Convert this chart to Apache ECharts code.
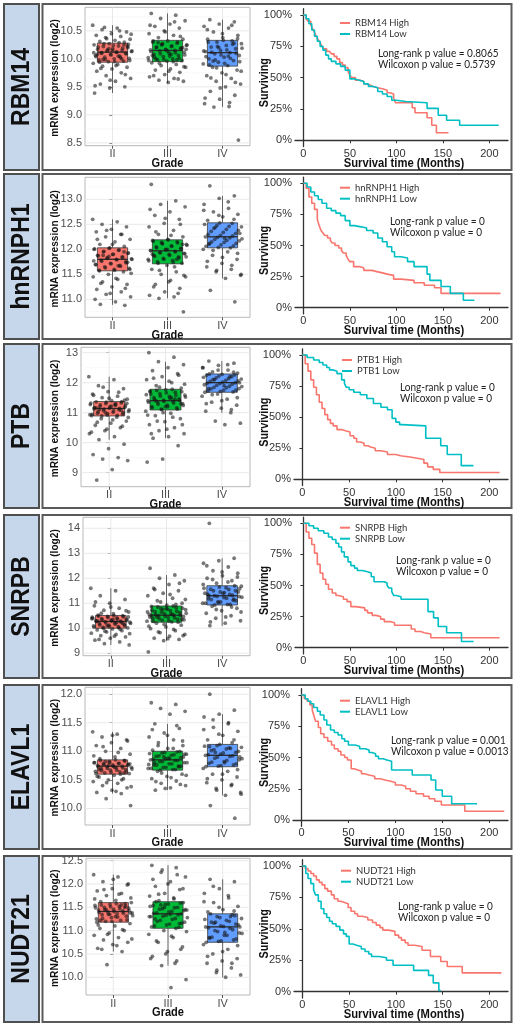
<!DOCTYPE html>
<html><head><meta charset="utf-8">
<script src="https://cdn.jsdelivr.net/npm/echarts@6/dist/echarts.min.js"></script>
<style>html,body{margin:0;padding:0;background:#fff}#c{width:520px;height:1027px}</style>
</head><body><div id="c"></div>
<script>
// ---------------- DATA ----------------
const genes = ['RBM14','hnRNPH1','PTB','SNRPB','ELAVL1','NUDT21'];
const kmNames = ['RBM14','hnRNPH1','PTB1','SNRPB','ELAVL1','NUDT21'];
const grades = ['II','III','IV'];

// box stats per grade: [lower whisker, Q1, median, Q3, upper whisker]
const rbm14Box   = [[9.39,9.94,10.12,10.28,10.6],[9.57,9.95,10.15,10.33,10.81],[9.14,9.87,10.11,10.33,10.7]];
const hnrnph1Box = [[10.89,11.57,11.80,12.03,12.6],[11.02,11.71,11.97,12.19,12.97],[11.42,12.03,12.25,12.53,13.07]];
const ptbBox     = [[10.1,10.89,11.14,11.37,12.2],[10.15,11.09,11.4,11.78,12.7],[11.0,11.68,12.0,12.29,12.72]];
const snrpbBox   = [[9.33,10.0,10.27,10.51,11.6],[9.5,10.24,10.52,10.89,12.13],[10.09,10.93,11.3,11.7,12.8]];
const elavl1Box  = [[10.26,10.6,10.74,10.85,11.34],[10.32,10.67,10.85,11.0,11.48],[10.23,10.73,10.93,11.12,11.65]];
const nudt21Box  = [[10.55,11.18,11.41,11.6,12.2],[10.25,11.05,11.36,11.62,12.4],[10.0,10.75,11.08,11.36,12.1]];

// individual expression values (jittered points)
const rbm14II  = [10.6,10.55,10.52,10.48,10.45,10.42,10.4,10.38,10.35,10.33,10.31,10.3,10.27,10.25,10.23,10.22,10.2,10.18,10.17,10.15,10.14,10.13,10.12,10.11,10.1,10.08,10.06,10.05,10.03,10.01,10.0,9.98,9.96,9.95,9.92,9.9,9.87,9.85,9.82,9.78,9.75,9.7,9.65,9.6,9.55,9.5,9.48,9.39,
  10.29,10.27,10.26,10.24,10.21,10.19,10.16,10.14,10.12,10.1,10.09,10.07,10.04,10.02,9.99,9.97,9.95,9.94,10.25,10.18,10.11,10.05,9.99,10.22,10.15,10.08,10.0,10.36,10.44,9.88,9.83,9.72,9.62,9.52,10.5,10.56];
const rbm14III = [10.81,10.78,10.72,10.68,10.62,10.58,10.55,10.5,10.45,10.42,10.38,10.35,10.32,10.3,10.28,10.26,10.24,10.22,10.2,10.19,10.17,10.16,10.15,10.14,10.12,10.1,10.08,10.06,10.04,10.02,10.0,9.98,9.97,9.96,9.93,9.9,9.88,9.85,9.82,9.8,9.76,9.72,9.68,9.65,9.62,9.6,9.58,
  10.32,10.3,10.27,10.25,10.23,10.21,10.18,10.16,10.13,10.11,10.09,10.07,10.05,10.03,10.01,9.99,9.97,9.95,10.29,10.2,10.14,10.06,9.98,10.25,10.17,10.08,10.0,10.4,10.48,10.6,10.66,9.92,9.86,9.78,9.7,9.64];
const rbm14IV  = [10.7,10.66,10.62,10.58,10.55,10.48,10.42,10.38,10.35,10.32,10.3,10.27,10.24,10.21,10.18,10.15,10.13,10.11,10.09,10.06,10.03,10.0,9.97,9.94,9.91,9.88,9.85,9.8,9.75,9.7,9.65,9.6,9.55,9.5,9.42,9.35,9.28,9.2,9.15,9.14,8.55,
  10.33,10.3,10.26,10.22,10.19,10.16,10.12,10.1,10.07,10.04,10.01,9.98,9.95,9.92,9.89,10.28,10.2,10.14,10.05,9.96,10.36,10.45,10.52,10.6,9.84,9.78,9.72,9.66,9.58,9.48,9.3,9.22];
const hnrnph1II  = [12.6,12.55,12.5,12.45,12.4,12.35,12.3,12.25,12.2,12.15,12.1,12.06,12.02,12.0,11.98,11.95,11.92,11.9,11.88,11.85,11.83,11.81,11.8,11.78,11.75,11.72,11.7,11.68,11.65,11.62,11.6,11.58,11.55,11.5,11.45,11.4,11.35,11.3,11.25,11.2,11.15,11.1,11.05,10.95,10.9,10.88,
  12.03,12.01,11.99,11.96,11.93,11.9,11.87,11.84,11.82,11.8,11.79,11.76,11.73,11.71,11.69,11.66,11.63,11.6,11.58,11.57,11.95,11.86,11.77,11.67,11.88,11.74,12.1,12.2,12.3,12.38,11.52,11.42,11.32,11.22,11.12,11.0];
const hnrnph1III = [13.3,12.97,12.9,12.85,12.75,12.68,12.6,12.52,12.45,12.38,12.3,12.25,12.2,12.18,12.15,12.12,12.1,12.07,12.05,12.02,12.0,11.98,11.96,11.94,11.92,11.9,11.88,11.85,11.82,11.8,11.78,11.75,11.72,11.68,11.6,11.55,11.5,11.45,11.38,11.3,11.22,11.15,11.08,11.05,11.02,10.75,
  12.19,12.16,12.13,12.11,12.08,12.06,12.03,12.01,11.99,11.97,11.95,11.93,11.91,11.88,11.86,11.83,11.8,11.77,11.74,11.72,12.1,12.0,11.9,11.8,12.14,11.85,12.28,12.35,12.5,12.62,12.8,11.65,11.58,11.48,11.35,11.25,11.12];
const hnrnph1IV  = [13.27,13.07,13.02,12.9,12.82,12.75,12.7,12.65,12.58,12.52,12.48,12.45,12.4,12.36,12.32,12.28,12.25,12.23,12.2,12.17,12.14,12.1,12.07,12.04,12.0,11.95,11.88,11.8,11.72,11.65,11.6,11.55,11.48,11.42,11.18,10.95,
  12.53,12.5,12.46,12.42,12.38,12.34,12.3,12.27,12.24,12.21,12.18,12.15,12.12,12.09,12.06,12.03,12.44,12.32,12.22,12.12,12.6,12.68,12.78,12.95,11.98,11.92,11.84,11.76,11.68,11.58,11.5];
const ptbII  = [12.2,12.1,11.9,11.8,11.7,11.62,11.55,11.5,11.45,11.4,11.36,11.33,11.3,11.27,11.24,11.21,11.18,11.15,11.13,11.1,11.07,11.04,11.01,10.98,10.95,10.92,10.9,10.85,10.8,10.72,10.65,10.58,10.5,10.4,10.3,10.2,10.1,9.95,9.8,9.6,9.5,9.45,9.4,9.1,8.75,
  11.37,11.35,11.32,11.29,11.26,11.23,11.2,11.17,11.14,11.12,11.09,11.06,11.03,11.0,10.97,10.94,10.91,10.89,11.31,11.22,11.16,11.08,11.0,10.93,11.28,11.11,11.42,11.48,11.58,11.68,11.85,10.84,10.76,10.68,10.55,10.45,10.35];
const ptbIII = [13.0,12.85,12.7,12.6,12.5,12.4,12.3,12.2,12.1,12.0,11.9,11.82,11.76,11.72,11.68,11.63,11.58,11.54,11.5,11.46,11.42,11.4,11.38,11.35,11.3,11.25,11.2,11.16,11.12,11.05,10.98,10.9,10.8,10.7,10.6,10.5,10.4,10.3,10.2,10.15,9.9,9.45,9.35,
  11.78,11.74,11.7,11.66,11.62,11.58,11.55,11.52,11.48,11.44,11.41,11.38,11.35,11.32,11.28,11.24,11.2,11.16,11.12,11.1,11.6,11.5,11.4,11.3,11.2,11.7,11.45,11.85,11.95,12.05,12.15,12.25,11.0,10.92,10.85,10.72,10.6,10.45,10.3];
const ptbIV  = [12.72,12.65,12.58,12.5,12.42,12.36,12.32,12.28,12.25,12.2,12.16,12.12,12.08,12.04,12.0,11.97,11.93,11.88,11.84,11.8,11.75,11.72,11.69,11.62,11.55,11.45,11.35,11.25,11.15,11.05,11.0,10.72,10.65,10.6,
  12.29,12.26,12.22,12.18,12.14,12.1,12.06,12.02,11.98,11.95,11.91,11.87,11.83,11.79,11.75,11.71,11.68,12.2,12.1,12.0,11.9,11.8,12.35,12.42,12.5,12.6,11.6,11.5,11.4,11.3,11.1];
const snrpbII  = [11.6,11.5,11.3,11.15,11.0,10.9,10.8,10.72,10.65,10.58,10.52,10.5,10.47,10.44,10.41,10.38,10.35,10.32,10.3,10.28,10.26,10.24,10.21,10.18,10.15,10.12,10.09,10.06,10.03,10.01,9.97,9.93,9.9,9.85,9.8,9.75,9.7,9.65,9.6,9.52,9.45,9.38,9.33,
  10.51,10.49,10.46,10.43,10.4,10.37,10.34,10.31,10.29,10.27,10.25,10.22,10.19,10.16,10.13,10.1,10.07,10.04,10.02,10.0,10.45,10.35,10.28,10.2,10.1,10.38,10.23,10.6,10.7,10.85,11.05,9.95,9.88,9.78,9.68,9.55];
const snrpbIII = [12.4,12.13,12.0,11.9,11.75,11.6,11.5,11.4,11.3,11.2,11.1,11.0,10.92,10.87,10.82,10.78,10.74,10.7,10.66,10.62,10.58,10.55,10.52,10.5,10.47,10.44,10.4,10.36,10.32,10.28,10.25,10.2,10.12,10.05,9.98,9.9,9.82,9.75,9.68,9.6,9.55,9.5,9.05,
  10.89,10.85,10.8,10.76,10.72,10.68,10.64,10.6,10.57,10.54,10.51,10.48,10.45,10.42,10.38,10.34,10.3,10.27,10.24,10.75,10.65,10.55,10.45,10.35,10.8,10.5,10.95,11.05,11.15,11.35,11.55,11.8,10.15,10.08,9.95,9.85,9.7,9.58];
const snrpbIV  = [14.2,12.8,12.7,12.6,12.45,12.3,12.2,12.1,12.0,11.9,11.8,11.68,11.62,11.56,11.5,11.45,11.4,11.35,11.3,11.27,11.23,11.18,11.12,11.06,11.0,10.95,10.88,10.8,10.7,10.6,10.5,10.4,10.3,10.2,10.1,
  11.7,11.65,11.6,11.55,11.5,11.45,11.4,11.36,11.32,11.28,11.24,11.2,11.15,11.1,11.05,11.0,10.95,10.93,11.58,11.42,11.3,11.16,11.02,11.75,11.85,11.95,12.05,12.25,12.5,10.85,10.75,10.65,10.45,10.25];
const elavl1II  = [11.34,11.3,11.25,11.2,11.15,11.1,11.05,11.0,10.95,10.9,10.87,10.84,10.82,10.8,10.79,10.78,10.77,10.76,10.75,10.74,10.73,10.72,10.71,10.7,10.68,10.67,10.65,10.64,10.62,10.61,10.58,10.55,10.52,10.5,10.47,10.44,10.4,10.36,10.32,10.28,10.26,10.17,10.05,
  10.85,10.84,10.83,10.81,10.8,10.79,10.77,10.76,10.74,10.73,10.71,10.7,10.69,10.67,10.66,10.64,10.63,10.61,10.6,10.82,10.78,10.72,10.68,10.62,10.76,10.92,10.98,11.08,11.18,11.28,10.56,10.5,10.45,10.38,10.3];
const elavl1III = [11.85,11.82,11.75,11.7,11.65,11.48,11.4,11.32,11.25,11.2,11.15,11.1,11.05,11.02,10.99,10.97,10.95,10.93,10.91,10.89,10.87,10.85,10.84,10.82,10.8,10.78,10.76,10.74,10.72,10.7,10.68,10.65,10.6,10.56,10.52,10.48,10.44,10.4,10.36,10.32,
  11.0,10.98,10.96,10.94,10.92,10.9,10.88,10.86,10.84,10.82,10.8,10.78,10.76,10.74,10.72,10.7,10.68,10.67,10.95,10.87,10.8,10.73,10.9,10.77,11.05,11.1,11.18,11.28,11.38,11.45,10.62,10.58,10.54,10.47,10.42,10.35];
const elavl1IV  = [12.0,11.72,11.65,11.6,11.5,11.42,11.35,11.28,11.2,11.15,11.1,11.07,11.04,11.01,10.98,10.95,10.93,10.91,10.88,10.85,10.82,10.79,10.76,10.74,10.7,10.65,10.6,10.55,10.5,10.45,10.4,10.35,10.28,10.23,10.05,9.83,
  11.12,11.09,11.06,11.03,11.0,10.97,10.94,10.92,10.9,10.87,10.84,10.81,10.78,10.75,10.73,11.05,10.98,10.9,10.8,11.08,11.2,11.3,11.38,11.48,11.55,10.68,10.6,10.52,10.42,10.32,10.25];
const nudt21II  = [12.2,12.15,12.05,11.98,11.9,11.85,11.8,11.75,11.7,11.65,11.62,11.58,11.56,11.54,11.52,11.5,11.48,11.46,11.44,11.42,11.4,11.38,11.36,11.34,11.31,11.28,11.25,11.22,11.2,11.15,11.1,11.05,11.0,10.95,10.9,10.85,10.8,10.75,10.7,10.62,10.55,10.27,
  11.6,11.58,11.55,11.53,11.51,11.49,11.47,11.45,11.43,11.41,11.39,11.37,11.35,11.32,11.29,11.26,11.23,11.2,11.18,11.55,11.45,11.38,11.3,11.22,11.5,11.35,11.68,11.78,11.88,12.0,12.1,11.12,11.02,10.92,10.82,10.68,10.6];
const nudt21III = [12.4,12.35,12.25,12.15,12.05,11.95,11.88,11.8,11.74,11.68,11.64,11.6,11.57,11.54,11.5,11.47,11.44,11.41,11.38,11.36,11.33,11.3,11.26,11.22,11.18,11.14,11.1,11.07,11.0,10.92,10.85,10.75,10.65,10.55,10.45,10.35,10.25,9.95,9.78,
  11.62,11.59,11.56,11.52,11.49,11.46,11.43,11.4,11.37,11.34,11.31,11.28,11.24,11.2,11.16,11.12,11.08,11.05,11.55,11.45,11.35,11.25,11.15,11.5,11.3,11.7,11.78,11.9,12.0,12.1,12.2,12.3,10.98,10.88,10.78,10.6,10.5,10.4,10.3];
const nudt21IV  = [12.1,12.05,11.9,11.8,11.7,11.6,11.52,11.45,11.4,11.34,11.3,11.26,11.22,11.18,11.14,11.1,11.08,11.05,11.0,10.95,10.9,10.85,10.8,10.77,10.7,10.6,10.5,10.4,10.35,10.3,10.2,10.1,10.05,10.0,
  11.36,11.32,11.28,11.24,11.2,11.16,11.12,11.09,11.06,11.02,10.98,10.94,10.9,10.86,10.82,10.78,10.75,11.3,11.18,11.08,10.96,10.84,11.42,11.5,11.62,11.75,11.95,10.68,10.55,10.45,10.3,10.15];

// y tick labels of the expression panels
const rbm14Ticks   = [8.5,9.0,9.5,10.0,10.5];
const hnrnph1Ticks = [11.0,11.5,12.0,12.5,13.0];
const ptbTicks     = [9,10,11,12,13];
const snrpbTicks   = [9,10,11,12,13,14];
const elavl1Ticks  = [10.0,10.5,11.0,11.5,12.0];
const nudt21Ticks  = [10.0,10.5,11.0,11.5,12.0,12.5];
// y ranges of the expression panels
const exprRange = [[8.45,10.92],[10.64,13.44],[8.53,13.18],[8.9,14.44],[9.71,12.12],[9.62,12.55]];

// survival curves: time (months) and surviving fraction
const rbm14HighT = [0,3,5,8,10,12,14,16,18,20,22,25,28,30,33,36,39,42,45,48,50,52,56,61,65,68,72,75,80,86,90,93,97,99,117,120,133,138,143,156];
const rbm14HighS = [1,0.97,0.95,0.92,0.89,0.86,0.83,0.8,0.78,0.75,0.73,0.71,0.7,0.69,0.67,0.65,0.62,0.6,0.58,0.55,0.52,0.5,0.48,0.47,0.45,0.44,0.43,0.42,0.41,0.4,0.38,0.37,0.34,0.3,0.26,0.22,0.18,0.12,0.06,0.06];
const rbm14LowT  = [0,3,6,9,12,15,18,21,24,27,30,35,40,45,50,55,60,65,70,75,80,85,90,95,100,110,133,145,154,168,210];
const rbm14LowS  = [1,0.97,0.93,0.88,0.83,0.79,0.75,0.72,0.68,0.65,0.63,0.61,0.59,0.56,0.49,0.48,0.47,0.45,0.43,0.42,0.39,0.37,0.35,0.32,0.31,0.3,0.255,0.2,0.16,0.12,0.12];
const hnrnph1HighT = [0,3,6,9,12,15,17,19,21,23,26,29,31,34,38,41,43,46,48,50,54,61,65,74,79,85,90,97,105,119,130,141,148,212];
const hnrnph1HighS = [1,0.96,0.89,0.84,0.79,0.71,0.66,0.62,0.6,0.58,0.56,0.54,0.52,0.5,0.48,0.46,0.44,0.42,0.39,0.37,0.33,0.32,0.3,0.29,0.28,0.27,0.26,0.23,0.22,0.2,0.18,0.16,0.115,0.115];
const hnrnph1LowT  = [0,4,8,12,16,20,25,30,35,40,45,50,55,62,68,75,80,85,90,95,98,105,112,119,133,136,148,158,172,184];
const hnrnph1LowS  = [1,0.97,0.93,0.9,0.87,0.84,0.8,0.78,0.76,0.74,0.7,0.66,0.65,0.64,0.62,0.6,0.56,0.53,0.49,0.45,0.41,0.4,0.37,0.33,0.27,0.22,0.17,0.115,0.06,0.06];
const ptbHighT = [0,3,6,9,12,15,18,21,24,27,30,33,37,42,46,51,55,58,62,66,70,73,78,84,91,100,105,115,123,130,134,140,147,211];
const ptbHighS = [1,0.93,0.87,0.8,0.74,0.68,0.62,0.57,0.52,0.48,0.45,0.43,0.4,0.39,0.38,0.35,0.33,0.3,0.29,0.27,0.26,0.25,0.23,0.22,0.2,0.19,0.18,0.17,0.16,0.13,0.1,0.08,0.055,0.055];
const ptbLowT  = [0,5,12,18,22,26,29,33,37,42,45,47,50,55,62,69,76,84,91,96,100,104,107,132,148,155,170,183];
const ptbLowS  = [1,0.98,0.96,0.94,0.92,0.9,0.88,0.87,0.85,0.8,0.77,0.74,0.72,0.7,0.68,0.65,0.61,0.58,0.56,0.49,0.46,0.44,0.43,0.33,0.27,0.2,0.11,0.11];
const snrpbHighT = [0,3,6,9,12,15,18,21,24,27,31,35,38,43,47,51,56,66,69,74,78,83,87,93,98,116,120,126,130,137,211];
const snrpbHighS = [1,0.93,0.88,0.83,0.76,0.67,0.6,0.55,0.51,0.47,0.44,0.42,0.41,0.39,0.37,0.33,0.32,0.3,0.28,0.26,0.25,0.23,0.21,0.2,0.18,0.15,0.13,0.12,0.11,0.08,0.08];
const snrpbLowT  = [0,6,11,16,22,27,31,35,38,41,44,48,51,55,58,63,69,73,76,87,90,92,95,97,100,105,134,140,145,154,170,183];
const snrpbLowS  = [1,0.98,0.96,0.94,0.92,0.89,0.87,0.84,0.81,0.77,0.73,0.69,0.66,0.64,0.62,0.61,0.6,0.57,0.53,0.52,0.5,0.48,0.45,0.42,0.41,0.39,0.29,0.24,0.17,0.12,0.05,0.05];
const elavl1HighT = [0,3,6,9,11.5,13,15,18,20.5,24,28,32,35,39,42,46,49,53,56,60,64,67,72,78,84,89,95,100,106,111,116,122,130,136,142,149,174,216];
const elavl1HighS = [1,0.97,0.95,0.92,0.88,0.84,0.79,0.74,0.69,0.66,0.63,0.6,0.57,0.55,0.52,0.5,0.48,0.41,0.4,0.39,0.37,0.36,0.35,0.33,0.32,0.31,0.3,0.28,0.27,0.25,0.23,0.21,0.19,0.17,0.15,0.12,0.07,0.07];
const elavl1LowT  = [0,4,7,10,13,17,20,24,27,31,35,39,43,46,50,57,62,68,72,75,79,82,87,91,96,118,138,143,150,160,187];
const elavl1LowS  = [1,0.97,0.95,0.93,0.9,0.87,0.84,0.8,0.76,0.72,0.7,0.68,0.65,0.63,0.6,0.59,0.57,0.56,0.54,0.53,0.51,0.49,0.48,0.47,0.4,0.36,0.32,0.24,0.19,0.13,0.13];
const nudt21HighT = [0,3,6,9,12,15,18,21,24,27,31,34,38,41,45,49,52,56,59,64,70,75,79,83,86,92,99,103,106,110,113,120,128,137,148,155,171,213];
const nudt21HighS = [1,0.98,0.96,0.94,0.92,0.89,0.87,0.85,0.82,0.8,0.77,0.74,0.72,0.71,0.7,0.67,0.64,0.62,0.6,0.59,0.57,0.55,0.53,0.51,0.49,0.48,0.45,0.43,0.41,0.39,0.37,0.36,0.33,0.28,0.24,0.2,0.15,0.15];
const nudt21LowT  = [0,3.6,6,9,12,14,17,20,23,26,29,32,36,40,44,47,50,54,58,63,67,71,74,82,90,97,119,135,140,146,148];
const nudt21LowS  = [1,0.94,0.9,0.86,0.81,0.77,0.72,0.66,0.62,0.59,0.56,0.54,0.52,0.49,0.46,0.44,0.38,0.37,0.36,0.34,0.32,0.3,0.28,0.27,0.25,0.21,0.17,0.13,0.07,0.01,0.01];

const kmXTicks = [0,50,100,150,200];
const kmYTicks = [0,0.25,0.5,0.75,1];
const longRankP = ['0.8065','0','0','0','0.001','0'];
const wilcoxonP = ['0.5739','0','0','0','0.0013','0'];

// ---------------- LAYOUT / STYLE ----------------
const boxStats = [rbm14Box,hnrnph1Box,ptbBox,snrpbBox,elavl1Box,nudt21Box];
const points = [[rbm14II,rbm14III,rbm14IV],[hnrnph1II,hnrnph1III,hnrnph1IV],[ptbII,ptbIII,ptbIV],[snrpbII,snrpbIII,snrpbIV],[elavl1II,elavl1III,elavl1IV],[nudt21II,nudt21III,nudt21IV]];
const yTicks = [rbm14Ticks,hnrnph1Ticks,ptbTicks,snrpbTicks,elavl1Ticks,nudt21Ticks];
const kmHigh = [[rbm14HighT,rbm14HighS],[hnrnph1HighT,hnrnph1HighS],[ptbHighT,ptbHighS],[snrpbHighT,snrpbHighS],[elavl1HighT,elavl1HighS],[nudt21HighT,nudt21HighS]];
const kmLow  = [[rbm14LowT,rbm14LowS],[hnrnph1LowT,hnrnph1LowS],[ptbLowT,ptbLowS],[snrpbLowT,snrpbLowS],[elavl1LowT,elavl1LowS],[nudt21LowT,nudt21LowS]];

const rowTop = [4,174,344,515,685,856];
const rowBot = [170,339,508,678,849,1022];
const bxTop = [7.3,177.3,347.3,517.3,687.3,858.3];
const bxBot = [145.7,317.3,486.7,655.7,825,995];
const bxLeft = [85,85,81,83,85,86];
const bxRight = 250;
const km100 = [15,183.3,355,523.3,695,866];
const km0 = [140.3,307.7,479.3,647.7,820,991.7];
const kmLeft = [295,295,294,295,293,294];
const kmRight = 508;
const legTop = [18,182.7,355,522.7,695.7,865.7];
const legLeft = [340,340,342,340,340,341];
const pX = [378,390,400,396,391,398];
const pY = [53.3,221.7,387.3,560,740,906];

const boxColors = ['#F8766D','#00BA38','#619CFF'];
const highColor = '#F8766D', lowColor = '#00BFC4';
const SANS = '"Liberation Sans", Arial, Helvetica, sans-serif';
const CAL = 'Lato, "Open Sans", sans-serif';

const jit = i => (((i * 0.6180339887) % 1) - 0.5) * 0.72;

const grids = [], xAxes = [], yAxes = [], series = [], legends = [], graphics = [];
const txt = (x, y, text, o) => Object.assign({type:'text', z:10, x, y,
  style:Object.assign({text, fontFamily:SANS, fill:'#111', align:'center', verticalAlign:'middle'}, o.style)}, o.el || {});

for (let r = 0; r < 6; r++) {
  // frames and gene label
  graphics.push({type:'rect', z:0, shape:{x:4,y:rowTop[r],width:35,height:rowBot[r]-rowTop[r]}, style:{fill:'#c6d6eb',stroke:'#4f4f4f',lineWidth:2}});
  graphics.push({type:'rect', z:0, shape:{x:42.5,y:rowTop[r],width:469,height:rowBot[r]-rowTop[r]}, style:{fill:'none',stroke:'#5a5a5a',lineWidth:2}});
  graphics.push(txt(22, (rowTop[r]+rowBot[r])/2, genes[r], {el:{rotation:Math.PI/2, scaleX:0.92}, style:{fontWeight:'bold', fontSize:25}}));
  // axis titles
  graphics.push(txt(55, (bxTop[r]+bxBot[r])/2 + 1.5, 'mRNA expression (log2)', {el:{rotation:Math.PI/2, scaleX:0.92}, style:{fontWeight:'bold', fontSize:11}}));
  graphics.push(txt((bxLeft[r]+bxRight)/2, bxBot[r] + 18, 'Grade', {el:{scaleX:0.92}, style:{fontWeight:'bold', fontSize:12}}));
  graphics.push(txt(265, (km100[r]+km0[r])/2 + 5, 'Surviving', {el:{rotation:Math.PI/2, scaleX:0.9}, style:{fontWeight:'bold', fontSize:12}}));
  graphics.push(txt(404, km0[r] + 23, 'Survival time (Months)', {el:{scaleX:0.9}, style:{fontWeight:'bold', fontSize:12.5}}));
  // p-values
  graphics.push(txt(pX[r], pY[r], 'Long-rank p value = '+longRankP[r], {el:{scaleX:0.91}, style:{fontFamily:CAL, fontSize:11, fill:'#222', align:'left'}}));
  graphics.push(txt(pX[r], pY[r]+11, 'Wilcoxon p value = '+wilcoxonP[r], {el:{scaleX:0.91}, style:{fontFamily:CAL, fontSize:11, fill:'#222', align:'left'}}));

  // grids
  grids.push({left:bxLeft[r], top:bxTop[r], width:bxRight-bxLeft[r], height:bxBot[r]-bxTop[r], show:true, borderColor:'#b8b8b8', borderWidth:1, backgroundColor:'#fff'});
  const span = km0[r]-km100[r];
  grids.push({left:kmLeft[r], top:km100[r]-0.05*span, width:kmRight-kmLeft[r], height:1.1*span, show:false});

  const gb = 2*r, gk = 2*r+1;
  xAxes.push({type:'category', gridIndex:gb, data:grades, boundaryGap:true,
    axisLine:{show:false}, axisTick:{show:true, alignWithLabel:true, length:3, lineStyle:{color:'#555'}},
    axisLabel:{fontSize:11, color:'#4d4d4d', margin:3, fontFamily:SANS},
    splitLine:{show:false}});
  xAxes.push({type:'value', gridIndex:gb, min:-0.5, max:2.5, show:false});
  xAxes.push({type:'value', gridIndex:gk, min:-9, max:220,
    axisLine:{show:true, lineStyle:{color:'#333', width:1.3}},
    axisTick:{show:true, length:3, customValues:kmXTicks, lineStyle:{color:'#333'}},
    axisLabel:{fontSize:11, color:'#333', margin:1.5, customValues:kmXTicks, fontFamily:SANS},
    splitLine:{show:false}});
  yAxes.push({type:'value', gridIndex:gb, min:exprRange[r][0], max:exprRange[r][1],
    axisLine:{show:false},
    axisTick:{show:true, length:3, customValues:yTicks[r], lineStyle:{color:'#555'}},
    axisLabel:{fontSize:11, color:'#4d4d4d', margin:3, customValues:yTicks[r], fontFamily:SANS,
      formatter: v => (yTicks[r].some(t => t % 1 !== 0) ? v.toFixed(1) : String(v))},
    splitLine:{show:false}});
  yAxes.push({type:'value', gridIndex:gk, min:-0.05, max:1.05,
    axisLine:{show:true, lineStyle:{color:'#333', width:1.3}},
    axisTick:{show:true, length:3, customValues:kmYTicks, lineStyle:{color:'#333'}},
    axisLabel:{fontSize:11, color:'#333', margin:3, customValues:kmYTicks, fontFamily:SANS, formatter: v => Math.round(v*100)+'%'},
    splitLine:{show:false}});

  const xb = 3*r, xj = 3*r+1, xk = 3*r+2, yb = 2*r, yk = 2*r+1;
  const ticks = yTicks[r], rng = exprRange[r];
  // panel grid lines
  series.push({type:'custom', xAxisIndex:xb, yAxisIndex:yb, z:1, silent:true, clip:true,
    data:[[0, ticks[0]]],
    renderItem: (params, api) => {
      const cs = params.coordSys, ch = [];
      const step = ticks[1]-ticks[0];
      const minors = [];
      for (let v = ticks[0]-step/2; v <= rng[1]; v += step) if (v >= rng[0]) minors.push(v);
      minors.forEach(v => { const y = api.coord([0, v])[1];
        ch.push({type:'line', shape:{x1:cs.x,y1:y,x2:cs.x+cs.width,y2:y}, style:{stroke:'#f3f3f3', lineWidth:0.6}}); });
      ticks.forEach(v => { const y = api.coord([0, v])[1];
        ch.push({type:'line', shape:{x1:cs.x,y1:y,x2:cs.x+cs.width,y2:y}, style:{stroke:'#e6e6e6', lineWidth:0.9}}); });
      [0,1,2].forEach(g => { const x = api.coord([g, ticks[0]])[0];
        ch.push({type:'line', shape:{x1:x,y1:cs.y,x2:x,y2:cs.y+cs.height}, style:{stroke:'#e6e6e6', lineWidth:0.9}}); });
      return {type:'group', children:ch};
    }});
  // boxes
  series.push({type:'custom', xAxisIndex:xb, yAxisIndex:yb, z:3, silent:true,
    data: boxStats[r].map((b,g) => [g, b[0], b[1], b[2], b[3], b[4]]),
    renderItem: (params, api) => {
      const g = api.value(0);
      const lo = api.coord([g, api.value(1)]), q1 = api.coord([g, api.value(2)]);
      const md = api.coord([g, api.value(3)]), q3 = api.coord([g, api.value(4)]);
      const hi = api.coord([g, api.value(5)]);
      const bw = api.size([1, 0])[0] * 0.55, x0 = md[0] - bw/2;
      return {type:'group', children:[
        {type:'line', shape:{x1:md[0],y1:lo[1],x2:md[0],y2:q1[1]}, style:{stroke:'#555',lineWidth:0.9}},
        {type:'line', shape:{x1:md[0],y1:q3[1],x2:md[0],y2:hi[1]}, style:{stroke:'#555',lineWidth:0.9}},
        {type:'rect', shape:{x:x0,y:q3[1],width:bw,height:q1[1]-q3[1]}, style:{fill:boxColors[params.dataIndex], stroke:'#3a3a3a', lineWidth:0.8}},
        {type:'line', shape:{x1:x0,y1:md[1],x2:x0+bw,y2:md[1]}, style:{stroke:'#2a2a2a',lineWidth:1.3}}
      ]};
    }});
  // jittered points
  const pts = [];
  points[r].forEach((arr, g) => arr.forEach((v, i) => pts.push([g + jit(i + 5*g), v])));
  series.push({type:'scatter', xAxisIndex:xj, yAxisIndex:yb, z:5, silent:true, symbolSize:3.8,
    itemStyle:{color:'rgba(20,20,20,0.72)'}, data:pts});
  // survival curves
  const hName = kmNames[r]+' High', lName = kmNames[r]+' Low';
  series.push({type:'line', name:hName, xAxisIndex:xk, yAxisIndex:yk, step:'end', showSymbol:false, symbol:'none',
    color:highColor, lineStyle:{width:1.6, color:highColor}, z:4,
    data: kmHigh[r][0].map((t,i) => [t, kmHigh[r][1][i]])});
  series.push({type:'line', name:lName, xAxisIndex:xk, yAxisIndex:yk, step:'end', showSymbol:false, symbol:'none',
    color:lowColor, lineStyle:{width:1.6, color:lowColor}, z:4,
    data: kmLow[r][0].map((t,i) => [t, kmLow[r][1][i]])});
  legends.push({data:[hName, lName], left:legLeft[r], top:legTop[r], orient:'vertical', padding:0, itemGap:1,
    itemWidth:10, itemHeight:2, icon:'rect', selectedMode:false,
    textStyle:{fontSize:9.5, fontFamily:CAL, color:'#333', lineHeight:10}});
}

const chart = echarts.init(document.getElementById('c'), null, {renderer:'canvas'});
chart.setOption({animation:false, backgroundColor:'#fff', grid:grids, xAxis:xAxes, yAxis:yAxes, series:series, legend:legends, graphic:graphics});
</script></body></html>
